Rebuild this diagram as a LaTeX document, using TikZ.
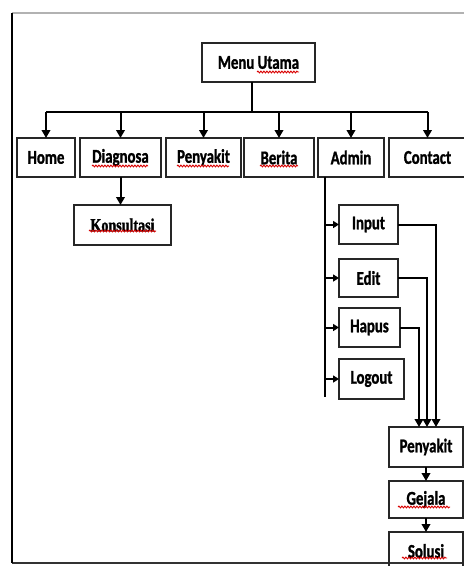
\documentclass[tikz,border=0pt]{standalone}
\usepackage{fontspec}
\setmainfont{Carlito}[FakeStretch=0.76,BoldFeatures={FakeBold=1.2}]
\newfontfamily\serifbold{Liberation Serif}[FakeStretch=0.76,BoldFeatures={FakeBold=1.5}]
\usetikzlibrary{arrows.meta,decorations.pathmorphing}

\begin{document}
\begin{tikzpicture}[x=1pt,y=-1pt,
  box/.style={draw=black!85,line width=1.3pt,inner sep=0pt,outer sep=0pt,
    minimum height=39pt,font=\fontsize{19.5}{22}\selectfont\bfseries},
  link/.style={line width=2pt,black},
  arr/.style={link,-{Triangle[length=8pt,width=8.5pt]}},
  arrs/.style={link,-{Triangle[length=6pt,width=7pt]}},
  sq/.style={red!85!black,line width=0.9pt,decorate,
    decoration={snake,segment length=3pt,amplitude=0.9pt}}]

\useasboundingbox (0,0) rectangle (464,566);

% page frame
\draw[gray!60,line width=2pt] (12,13) -- (470,13);
\draw[black!80,line width=2pt] (12,563) -- (470,563);
\draw[black,line width=1.3pt] (12,13) -- (12,563);

% top level
\node[box,minimum width=113pt] (menu) at (258.5,62.5) {Menu Utama};

\node[box,minimum width=58pt] (home)    at (46,157.5)    {Home};
\node[box,minimum width=81pt] (diag)    at (120.5,157.5) {Diagnosa};
\node[box,minimum width=75pt] (peny)    at (203.5,157.5) {Penyakit};
\node[box,minimum width=70pt] (berita)  at (279,157.5)   {Berita};
\node[box,minimum width=66pt] (admin)   at (351,157.5)   {Admin};
\node[box,minimum width=77pt] (contact) at (427.5,157.5) {Contact};

\node[box,minimum width=97pt,minimum height=40pt,font=\fontsize{18.5}{22}\selectfont\serifbold\bfseries]
  (kons) at (122.5,225) {Konsultasi};

% admin menu
\node[box,minimum width=59pt] (input)  at (368.5,224.5) {Input};
\node[box,minimum width=59pt,minimum height=38pt] (edit) at (368.5,278) {Edit};
\node[box,minimum width=61pt] (hapus)  at (369.5,327.5) {Hapus};
\node[box,minimum width=65pt,minimum height=40pt] (logout) at (371.5,379) {Logout};

% data chain
\node[box,minimum width=74pt,minimum height=40pt] (pen2)   at (426,447)   {Penyakit};
\node[box,minimum width=74pt,minimum height=37pt] (gejala) at (426,499.5) {Gejala};
\node[box,minimum width=74pt,minimum height=38pt] (solusi) at (426,551)   {Solusi};

% bus from the main menu
\coordinate (bus) at (252,112);
\draw[link] ([xshift=-6.5pt]menu.south) -- (bus);
\draw[link] (bus -| home.north) -- (bus -| contact.north);
\foreach \n in {home,diag,peny,berita,admin,contact}
  \draw[arr] (bus -| \n.north) -- (\n.north);

\draw[arr] (diag.south) -- (diag.south |- kons.north);

% admin branch
\coordinate (admA) at (325,177);
\coordinate (admB) at (325,397);
\draw[link] (admA) -- (admB);
\foreach \n in {input,edit,hapus,logout}
  \draw[arrs] (admA |- \n.west) -- (\n.west);

\draw[arr] (input.east) -| ([xshift=10pt]pen2.north);
\draw[arr] (edit.east)  -| ([xshift=1pt]pen2.north);
\draw[arr] (hapus.east) -| ([xshift=-7pt]pen2.north);

\draw[arr] (pen2.south) -- (gejala.north);
\draw[arr] (gejala.south) -- (solusi.north);

% spelling marks
\draw[sq] ([shift={(-1.5,9.5)}]menu.center) -- ([shift={(40.5,9.5)}]menu.center);
\draw[sq] ([shift={(-28.5,8.5)}]diag.center) -- ([shift={(27.5,8.5)}]diag.center);
\draw[sq] ([shift={(-26.5,8.5)}]peny.center) -- ([shift={(25.5,8.5)}]peny.center);
\draw[sq] ([shift={(-19,8.5)}]berita.center) -- ([shift={(19,8.5)}]berita.center);
\draw[sq] ([shift={(-33.5,6)}]kons.center) -- ([shift={(33.5,6)}]kons.center);
\draw[sq] ([shift={(-28,7.5)}]gejala.center) -- ([shift={(24,7.5)}]gejala.center);
\draw[sq] ([shift={(-24,7)}]solusi.center) -- ([shift={(21,7)}]solusi.center);
\end{tikzpicture}
\end{document}
